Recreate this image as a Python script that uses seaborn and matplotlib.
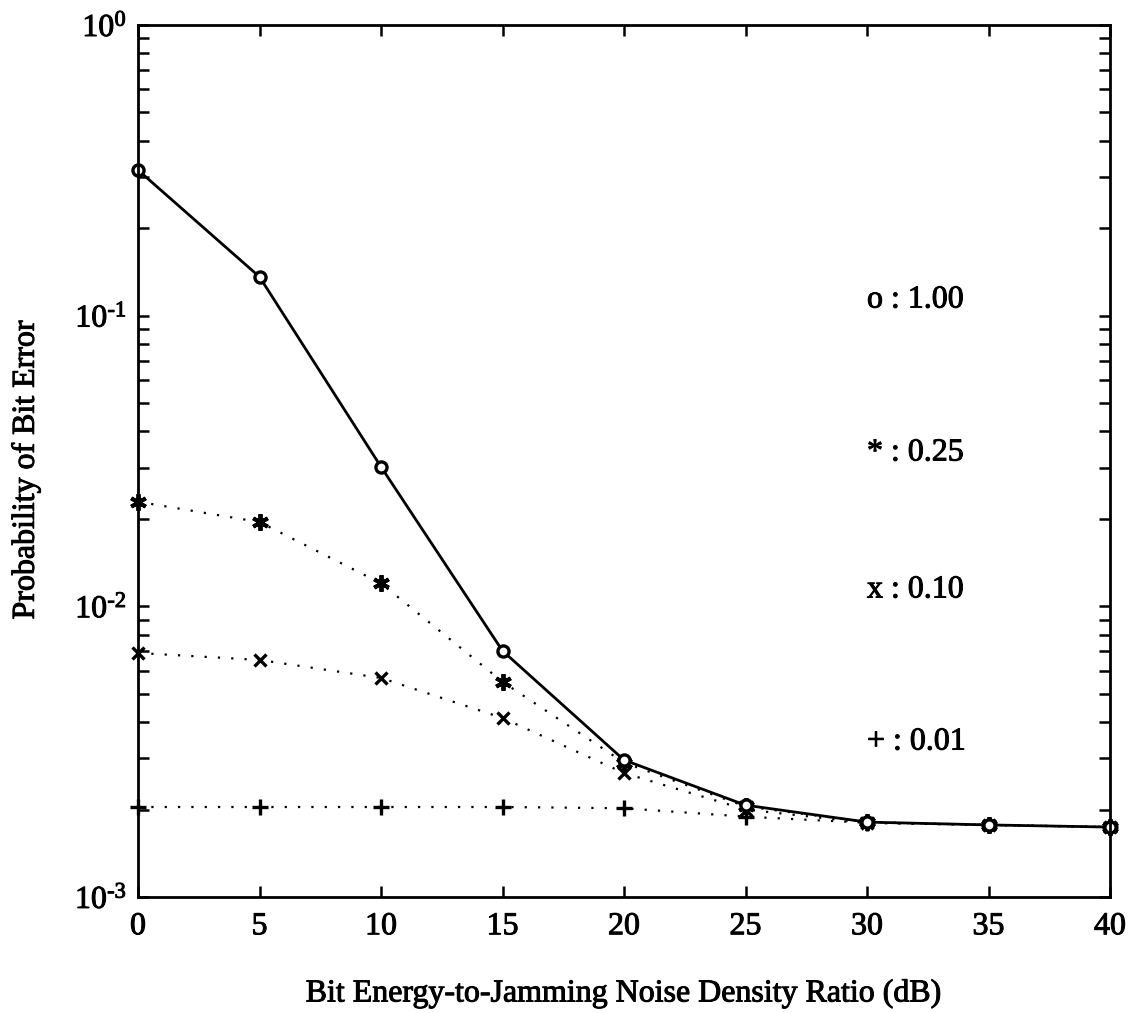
import numpy as np
import pandas as pd
import matplotlib
matplotlib.use("Agg")
import matplotlib.pyplot as plt
import matplotlib.ticker as mticker
import matplotlib.patheffects as pe
import seaborn as sns

# ---- data ----
ebj_db = [0, 5, 10, 15, 20, 25, 30, 35, 40]
pb_100 = [0.317, 0.136, 0.0302, 0.00703, 0.00296, 0.00207, 0.00181, 0.00177, 0.00174]
pb_025 = [0.0229, 0.0195, 0.0120, 0.0055, 0.00290, 0.00205, 0.00181, 0.00177, 0.00174]
pb_010 = [0.00691, 0.00654, 0.00567, 0.00413, 0.00267, 0.00200, 0.00180, 0.00177, 0.00174]
pb_001 = [0.00204, 0.00204, 0.00204, 0.00204, 0.00202, 0.00189, 0.00180, 0.00177, 0.00174]
legend_labels = ["o : 1.00", "* : 0.25", "x : 0.10", "+ : 0.01"]
x_ticks = [0, 5, 10, 15, 20, 25, 30, 35, 40]
y_ticks = [1e-3, 1e-2, 1e-1, 1e0]
y_tick_labels = ["10$^{\\mathregular{\u2010}\\mathregular{3}}$", "10$^{\\mathregular{\u2010}\\mathregular{2}}$",
                 "10$^{\\mathregular{\u2010}\\mathregular{1}}$", "10$^{\\mathregular{0}}$"]

sns.set_theme(style="white")
plt.rcParams["font.family"] = ["Liberation Serif", "DejaVu Serif"]
plt.rcParams["mathtext.fontset"] = "custom"
plt.rcParams["mathtext.rm"] = "Liberation Serif"
plt.rcParams["mathtext.it"] = "Liberation Serif"

FS = 23
thick = [pe.withStroke(linewidth=0.7, foreground="black")]

fig = plt.figure(figsize=(11.32, 10.13), dpi=100)
ax = fig.add_axes([138 / 1132, 1 - 897 / 1013, (1110 - 138) / 1132, (897 - 25) / 1013])

dotted = (0, (1, 5))
series = [
    (pb_100, dict(marker="o", markersize=8, markerfacecolor="white", markeredgewidth=2.4,
                  linestyle="-", linewidth=2.0)),
    (pb_025, dict(marker=(6, 2, 0), markersize=12, markeredgewidth=2.8,
                  linestyle=dotted, linewidth=1.6)),
    (pb_010, dict(marker="x", markersize=9, markeredgewidth=2.4,
                  linestyle=dotted, linewidth=1.6)),
    (pb_001, dict(marker="+", markersize=11, markeredgewidth=2.4,
                  linestyle=dotted, linewidth=1.6)),
]
for vals, kw in series[::-1]:
    df = pd.DataFrame({"x": ebj_db, "y": vals})
    sns.lineplot(data=df, x="x", y="y", ax=ax, color="black", markeredgecolor="black",
                 errorbar=None, clip_on=False, **kw)

ax.set_yscale("log")
ax.set_xlim(0, 40)
ax.set_ylim(1e-3, 1e0)
ax.set_xticks(x_ticks)
ax.set_xticklabels([str(v) for v in x_ticks])
ax.set_yticks(y_ticks)
ax.set_yticklabels(y_tick_labels)
ax.yaxis.set_minor_locator(mticker.LogLocator(base=10, subs=np.arange(2, 10)))
ax.yaxis.set_minor_formatter(mticker.NullFormatter())

ax.tick_params(axis="both", which="both", direction="in", top=True, right=True,
               bottom=True, left=True, color="black", width=1.8)
ax.tick_params(axis="both", which="major", length=8, labelsize=FS, labelcolor="black")
ax.tick_params(axis="y", which="minor", length=8)
ax.tick_params(axis="x", which="major", pad=11)
ax.tick_params(axis="y", which="major", pad=8)
for lab in ax.get_xticklabels() + ax.get_yticklabels():
    lab.set_path_effects(thick)

for sp in ax.spines.values():
    sp.set_visible(True)
    sp.set_color("black")
    sp.set_linewidth(2.0)

ax.set_xlabel("Bit Energy-to-Jamming Noise Density Ratio (dB)", fontsize=FS, color="black",
              path_effects=thick)
ax.set_ylabel("Probability of Bit Error", fontsize=FS, color="black", path_effects=thick)
ax.xaxis.set_label_coords(0.5, -0.094)
ax.yaxis.set_label_coords(-0.1, 0.49)

label_y = [0.6846, 0.5092, 0.3521, 0.1777]
for txt, yy in zip(legend_labels, label_y):
    ax.text(0.75, yy, txt, transform=ax.transAxes, fontsize=FS, va="center", ha="left",
            color="black", path_effects=thick)

ax.grid(False)
fig.savefig("out.png", dpi=100, facecolor="white")
